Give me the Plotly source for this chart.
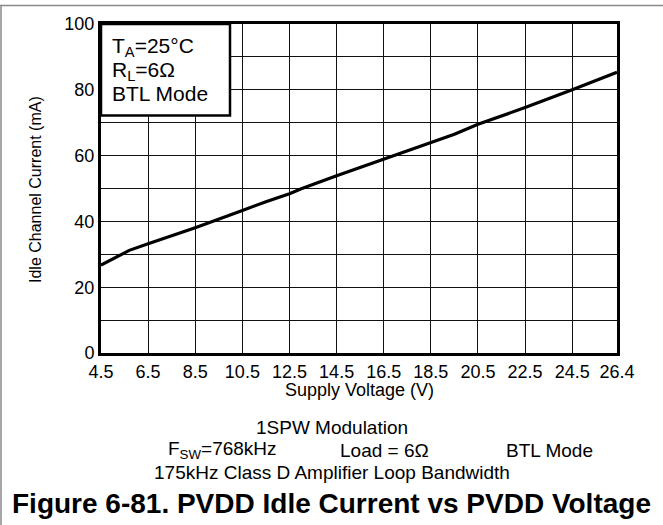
import plotly.graph_objects as go

# Supply voltage (V) and idle channel current (mA)
supply_voltage = [4.5, 5.7, 6.5, 8.5, 10.5, 11.5, 12.5, 13.0, 14.5, 16.5, 18.5, 19.5, 20.5, 22.5, 24.5, 26.4]
idle_current = [26.7, 31.2, 33.2, 38.1, 43.3, 46.0, 48.4, 49.9, 53.9, 59.0, 64.2, 66.5, 69.5, 74.6, 80.0, 85.3]

x_ticks = [4.5, 6.5, 8.5, 10.5, 12.5, 14.5, 16.5, 18.5, 20.5, 22.5, 24.5, 26.4]
x_tick_labels = ["4.5", "6.5", "8.5", "10.5", "12.5", "14.5", "16.5", "18.5", "20.5", "22.5", "24.5", "26.4"]
y_ticks = [0, 10, 20, 30, 40, 50, 60, 70, 80, 90, 100]
y_tick_labels = ["0", "", "20", "", "40", "", "60", "", "80", "", "100"]

FONT = "Liberation Sans, Arial, sans-serif"
W, H = 663, 525
L, R, T, B = 101, 46, 24, 172
plot_h = H - T - B
plot_w = W - L - R


def py(pix):
    """Pixel row -> paper y."""
    return (H - B - pix) / plot_h


def px(pix):
    """Pixel column -> paper x."""
    return (pix - L) / plot_w


fig = go.Figure()
fig.add_trace(go.Scatter(
    x=supply_voltage, y=idle_current, mode="lines",
    line=dict(color="black", width=3.2), hoverinfo="skip", showlegend=False,
))

fig.update_layout(
    width=W, height=H,
    margin=dict(l=L, r=R, t=T, b=B),
    paper_bgcolor="white", plot_bgcolor="white",
    font=dict(family=FONT, color="black"),
    xaxis=dict(
        range=[4.5, 26.4], tickmode="array", tickvals=x_ticks, ticktext=x_tick_labels,
        showgrid=True, gridcolor="#111", gridwidth=1,
        showline=True, linecolor="black", linewidth=3, mirror=True,
        zeroline=False, ticks="", tickfont=dict(size=18),
    ),
    yaxis=dict(
        range=[0, 100], tickmode="array", tickvals=y_ticks, ticktext=y_tick_labels,
        showgrid=True, gridcolor="#111", gridwidth=1,
        showline=True, linecolor="black", linewidth=3, mirror=True,
        zeroline=False, ticks="", tickfont=dict(size=18),
    ),
)

# Axis titles
fig.add_annotation(xref="paper", yref="paper", x=0.5, y=py(390), showarrow=False,
                   text="Supply Voltage (V)", font=dict(size=18),
                   xanchor="center", yanchor="middle")
fig.add_annotation(xref="paper", yref="paper", x=px(35), y=py(190), showarrow=False,
                   text="Idle Channel Current (mA)", font=dict(size=16), textangle=-90,
                   xanchor="center", yanchor="middle")

# Condition box in the upper-left corner of the plot
fig.add_shape(type="rect", xref="paper", yref="paper",
              x0=0, x1=px(230), y0=py(115.5), y1=1,
              line=dict(color="black", width=2.5), fillcolor="white", layer="above")
for text, row in [("T<sub>A</sub>=25°C", 47.5), ("R<sub>L</sub>=6Ω", 71), ("BTL Mode", 94)]:
    fig.add_annotation(xref="paper", yref="paper", x=px(110), y=py(row),
                       xanchor="left", yanchor="middle", showarrow=False,
                       font=dict(size=21), text=text)

# Test conditions below the chart
notes = [
    ("1SPW Modulation", 332, 427),
    ("F<sub>SW</sub>=768kHz", 222, 450),
    ("Load = 6Ω", 384, 450),
    ("BTL Mode", 549, 450),
    ("175kHz Class D Amplifier Loop Bandwidth", 332, 472),
]
for text, col, row in notes:
    fig.add_annotation(xref="paper", yref="paper", x=px(col), y=py(row), showarrow=False,
                       text=text, font=dict(size=19), xanchor="center", yanchor="middle")
fig.add_annotation(xref="paper", yref="paper", x=px(331), y=py(503), showarrow=False,
                   text="<b>Figure 6-81. PVDD Idle Current vs PVDD Voltage</b>",
                   font=dict(size=28), xanchor="center", yanchor="middle")

# Page frame lines
fig.add_shape(type="line", xref="paper", yref="paper", x0=px(0), x1=px(663), y0=py(5.5), y1=py(5.5),
              line=dict(color="#8a8a8a", width=1.5))
fig.add_shape(type="line", xref="paper", yref="paper", x0=px(1), x1=px(1), y0=py(5.5), y1=py(525),
              line=dict(color="#8a8a8a", width=1.5))

fig.write_html("out.html")
